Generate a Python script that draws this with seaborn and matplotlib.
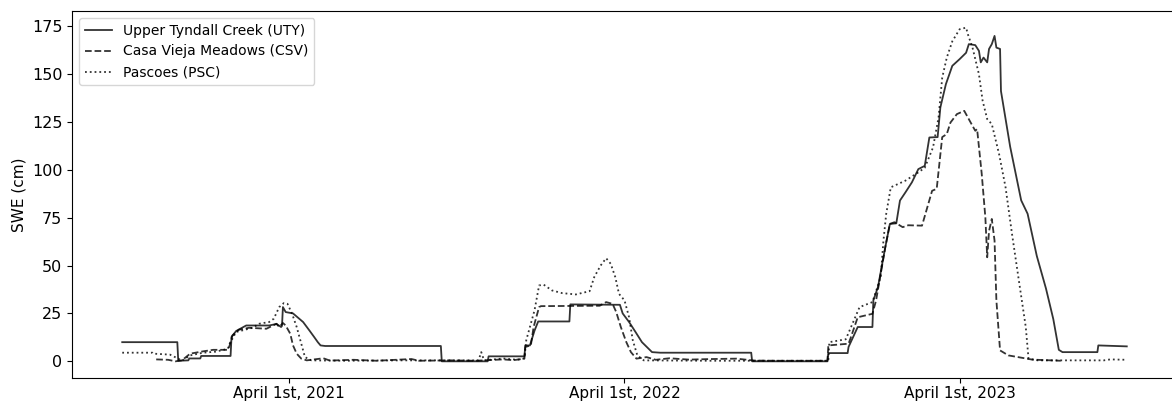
import matplotlib
matplotlib.use("Agg")
import matplotlib.pyplot as plt
import seaborn as sns
import pandas as pd

# Snow water equivalent (cm) at three snow pillow stations, water years 2021-2023
uty_dates = [
    "2020-10-01", "2020-11-30", "2020-12-01", "2020-12-12", "2020-12-13", "2020-12-25",
    "2020-12-26", "2021-01-27", "2021-01-28", "2021-02-02", "2021-02-13", "2021-03-10",
    "2021-03-18", "2021-03-23", "2021-03-24", "2021-03-25", "2021-03-28", "2021-04-05",
    "2021-04-16", "2021-04-23", "2021-04-28", "2021-05-02", "2021-05-05", "2021-05-10",
    "2021-09-13", "2021-09-14", "2021-11-03", "2021-11-04", "2021-12-13", "2021-12-14",
    "2021-12-19", "2021-12-24", "2021-12-28", "2022-01-31", "2022-02-01", "2022-03-27",
    "2022-03-30", "2022-04-06", "2022-04-13", "2022-04-20", "2022-05-01", "2022-05-10",
    "2022-08-17", "2022-08-18", "2022-11-08", "2022-11-09", "2022-11-30", "2022-12-01",
    "2022-12-11", "2022-12-27", "2022-12-28", "2023-01-02", "2023-01-10", "2023-01-15",
    "2023-01-22", "2023-01-26", "2023-02-01", "2023-02-08", "2023-02-15", "2023-02-22",
    "2023-02-27", "2023-03-08", "2023-03-11", "2023-03-17", "2023-03-24", "2023-04-01",
    "2023-04-08", "2023-04-11", "2023-04-18", "2023-04-22", "2023-04-24", "2023-04-27",
    "2023-05-01", "2023-05-03", "2023-05-06", "2023-05-09", "2023-05-11", "2023-05-15",
    "2023-05-16", "2023-05-26", "2023-06-07", "2023-06-14", "2023-06-24", "2023-07-04",
    "2023-07-12", "2023-07-18", "2023-07-22", "2023-08-29", "2023-08-30", "2023-09-30",
]
uty_swe = [
    10.0, 10.0, 0.3, 0.5, 1.5, 1.5,
    2.8, 2.8, 12.7, 15.8, 18.7, 18.7,
    19.5, 17.9, 18.5, 28.3, 25.7, 25.0,
    20.5, 16.0, 12.7, 10.0, 8.3, 8.0,
    8.0, 0.0, 0.0, 2.6, 2.6, 8.3,
    8.3, 16.0, 20.8, 20.8, 29.7, 29.5,
    25.0, 20.5, 15.3, 10.0, 4.8, 4.5,
    4.5, 0.0, 0.0, 4.3, 4.3, 7.5,
    17.9, 17.9, 31.8, 38.7, 59.5, 71.7,
    72.0, 83.9, 88.2, 93.4, 100.3, 102.0,
    116.8, 117.0, 132.5, 144.6, 154.2, 157.7,
    161.0, 165.5, 165.0, 162.0, 156.0, 158.5,
    156.0, 163.0, 165.5, 169.8, 163.7, 163.0,
    141.0, 112.0, 84.0, 77.0, 55.0, 38.0,
    22.0, 6.0, 4.8, 4.8, 8.3, 7.8,
]

csv_dates = [
    "2020-11-07", "2020-11-20", "2020-11-28", "2020-12-05", "2020-12-14", "2020-12-28",
    "2021-01-08", "2021-01-24", "2021-01-26", "2021-01-29", "2021-02-05", "2021-02-16",
    "2021-03-07", "2021-03-18", "2021-03-21", "2021-03-25", "2021-03-28", "2021-04-02",
    "2021-04-05", "2021-04-09", "2021-04-14", "2021-04-20", "2021-05-08", "2021-05-15",
    "2021-06-10", "2021-07-05", "2021-08-12", "2021-08-20", "2021-09-25", "2021-10-20",
    "2021-11-20", "2021-12-01", "2021-12-13", "2021-12-14", "2021-12-20", "2021-12-23",
    "2021-12-29", "2021-12-31", "2022-03-05", "2022-03-12", "2022-03-19", "2022-03-23",
    "2022-03-28", "2022-04-03", "2022-04-08", "2022-04-14", "2022-04-25", "2022-05-05",
    "2022-05-20", "2022-06-10", "2022-07-05", "2022-08-01", "2022-08-20", "2022-09-15",
    "2022-11-08", "2022-11-09", "2022-12-01", "2022-12-03", "2022-12-11", "2022-12-27",
    "2022-12-31", "2023-01-10", "2023-01-15", "2023-01-20", "2023-01-29", "2023-02-04",
    "2023-02-19", "2023-03-02", "2023-03-07", "2023-03-13", "2023-03-18", "2023-03-22",
    "2023-03-29", "2023-04-06", "2023-04-13", "2023-04-18", "2023-04-20", "2023-04-25",
    "2023-04-29", "2023-05-01", "2023-05-03", "2023-05-06", "2023-05-09", "2023-05-11",
    "2023-05-15", "2023-05-24", "2023-06-19", "2023-07-20",
]
csv_swe = [
    1.0, 0.8, 0.0, 0.5, 4.0, 5.2,
    6.0, 6.0, 8.3, 13.5, 16.5, 17.5,
    17.0, 19.6, 17.9, 20.0, 18.7, 14.4,
    8.3, 4.0, 1.4, 0.5, 1.6, 0.4,
    0.8, 0.3, 1.2, 0.3, 0.5, 0.3,
    1.0, 0.6, 1.4, 7.5, 8.3, 17.9,
    28.3, 28.8, 29.0, 30.9, 30.0, 25.7,
    17.9, 10.0, 4.8, 1.4, 2.2, 0.8,
    1.6, 0.9, 1.2, 1.4, 0.4, 0.3,
    0.3, 8.3, 9.2, 11.8, 23.0, 24.8,
    31.8, 59.5, 71.7, 72.6, 70.0, 71.0,
    70.8, 89.0, 90.0, 117.0, 118.6, 124.6,
    129.0, 130.7, 124.6, 120.3, 121.2, 98.0,
    75.0, 54.3, 68.0, 74.3, 63.0, 31.8,
    5.7, 3.1, 0.9, 0.3,
]

psc_dates = [
    "2020-10-01", "2020-11-03", "2020-11-04", "2020-11-22", "2020-12-01", "2020-12-05",
    "2020-12-14", "2020-12-28", "2021-01-10", "2021-01-24", "2021-01-26", "2021-02-02",
    "2021-02-20", "2021-02-27", "2021-03-10", "2021-03-15", "2021-03-21", "2021-03-26",
    "2021-03-30", "2021-04-04", "2021-04-09", "2021-04-14", "2021-04-18", "2021-04-25",
    "2021-06-01", "2021-08-01", "2021-10-24", "2021-10-27", "2021-10-30", "2021-11-20",
    "2021-12-05", "2021-12-13", "2021-12-15", "2021-12-24", "2021-12-29", "2022-01-03",
    "2022-01-12", "2022-01-23", "2022-02-07", "2022-02-22", "2022-02-27", "2022-03-06",
    "2022-03-12", "2022-03-17", "2022-03-22", "2022-03-26", "2022-04-01", "2022-04-06",
    "2022-04-10", "2022-04-15", "2022-04-22", "2022-07-01", "2022-11-09", "2022-11-10",
    "2022-11-28", "2022-12-13", "2022-12-27", "2023-01-05", "2023-01-08", "2023-01-11",
    "2023-01-16", "2023-02-01", "2023-02-15", "2023-02-22", "2023-03-03", "2023-03-09",
    "2023-03-13", "2023-03-18", "2023-03-24", "2023-04-01", "2023-04-08", "2023-04-10",
    "2023-04-15", "2023-04-22", "2023-04-26", "2023-05-01", "2023-05-06", "2023-05-14",
    "2023-05-21", "2023-05-28", "2023-06-05", "2023-06-12", "2023-06-15", "2023-06-25",
    "2023-09-05", "2023-09-12", "2023-09-30",
]
psc_swe = [
    4.5, 4.5, 4.0, 3.5, 1.4, 0.3,
    3.1, 4.5, 5.0, 6.5, 9.2, 15.3,
    17.5, 19.6, 20.5, 22.2, 28.3, 30.4,
    30.0, 24.8, 17.9, 9.2, 2.2, 0.5,
    0.3, 0.5, 0.5, 4.8, 0.5, 1.5,
    0.8, 1.5, 11.0, 26.6, 39.6, 40.0,
    37.0, 35.6, 34.9, 36.6, 43.9, 50.0,
    53.8, 50.9, 43.9, 35.2, 31.8, 23.0,
    11.0, 3.1, 0.5, 0.3, 0.3, 10.0,
    11.5, 28.3, 30.9, 43.9, 63.0, 76.9,
    90.8, 94.3, 98.6, 101.0, 111.6, 127.2,
    148.0, 158.5, 167.0, 173.3, 174.1, 170.6,
    163.7, 149.8, 136.0, 126.4, 123.8, 108.0,
    90.8, 66.5, 40.5, 17.9, 1.4, 0.5,
    0.5, 1.0, 0.8,
]

station_labels = ["Upper Tyndall Creek (UTY)", "Casa Vieja Meadows (CSV)", "Pascoes (PSC)"]
tick_dates = ["2021-04-01", "2022-04-01", "2023-04-01"]
tick_labels = ["April 1st, 2021", "April 1st, 2022", "April 1st, 2023"]

series = [
    (uty_dates, uty_swe, "-"),
    (csv_dates, csv_swe, "--"),
    (psc_dates, psc_swe, ":"),
]

fig = plt.figure(figsize=(11.72, 4.01), dpi=100)
ax = fig.add_axes([72 / 1172, 23 / 401, 1105 / 1172, 367 / 401])

for (dates, swe, style), label in zip(series, station_labels):
    frame = pd.DataFrame({"date": pd.to_datetime(dates), "swe": swe})
    sns.lineplot(data=frame, x="date", y="swe", ax=ax, color="black", alpha=0.8,
                 linestyle=style, linewidth=1.3, label=label, estimator=None)

ax.set_ylim(-8.7, 182.8)
ax.set_xticks(pd.to_datetime(tick_dates))
ax.set_xticklabels(tick_labels, fontsize=11)
ax.tick_params(axis="x", pad=2.5)
ax.tick_params(axis="y", labelsize=11.5)
ax.set_xlabel("")
ax.set_ylabel("SWE (cm)", fontsize=11)
ax.legend(loc="upper left", fontsize=10)

fig.savefig("out.png", dpi=100)
